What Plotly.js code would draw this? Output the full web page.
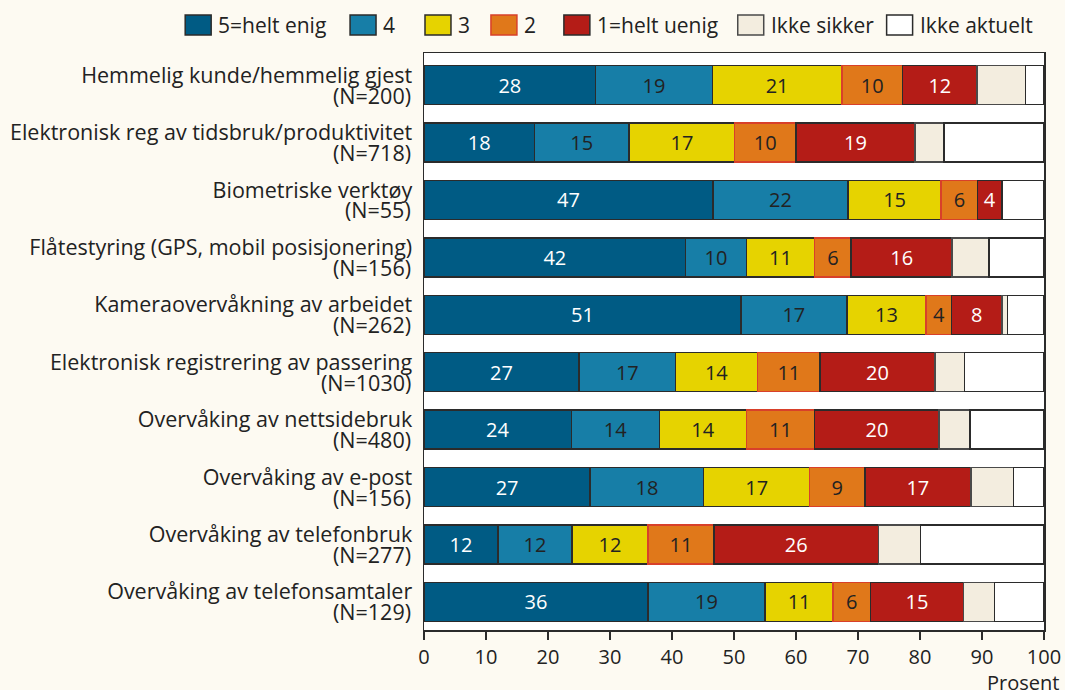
<!DOCTYPE html>
<html>
<head>
<meta charset="utf-8">
<script src="https://cdn.plot.ly/plotly-3.0.1.min.js"></script>
<style>
  html, body { margin: 0; padding: 0; background: #fdfaf2; }
  #chart { width: 1065px; height: 690px; }
</style>
</head>
<body>
<div id="chart"></div>
<script>
// Categories (top to bottom)
const categories = [
  'Hemmelig kunde/hemmelig gjest',
  'Elektronisk reg av tidsbruk/produktivitet',
  'Biometriske verktøy',
  'Flåtestyring (GPS, mobil posisjonering)',
  'Kameraovervåkning av arbeidet',
  'Elektronisk registrering av passering',
  'Overvåking av nettsidebruk',
  'Overvåking av e-post',
  'Overvåking av telefonbruk',
  'Overvåking av telefonsamtaler'
];
const nLabels = ['(N=200)', '(N=718)', '(N=55)', '(N=156)', '(N=262)', '(N=1030)', '(N=480)', '(N=156)', '(N=277)', '(N=129)'];

// Series names (legend)
const seriesNames = ['5=helt enig', '4', '3', '2', '1=helt uenig', 'Ikke sikker', 'Ikke aktuelt'];

// Bar lengths (percent)
const w5       = [27.7, 17.8, 46.6, 42.2, 51.1, 25.0, 23.8, 26.8, 11.9, 36.1];
const w4       = [18.8, 15.3, 21.8,  9.8, 17.1, 15.6, 14.2, 18.3, 12.0, 18.9];
const w3       = [20.9, 17.0, 15.0, 11.0, 12.8, 13.2, 14.0, 17.1, 12.2, 11.0];
const w2       = [ 9.8,  9.9,  5.9,  5.9,  4.1, 10.1, 11.0,  8.9, 10.7,  6.0];
const w1       = [12.0, 19.2,  3.9, 16.3,  8.1, 18.5, 20.1, 17.1, 26.5, 15.0];
const wSikker  = [ 7.8,  4.7,  0.0,  5.9,  0.9,  4.8,  5.0,  6.9,  6.8,  5.0];
const wAktuelt = [ 3.0, 16.1,  6.8,  8.9,  5.9, 12.8, 11.9,  4.9, 19.9,  8.0];

// Printed value labels
const t5 = [28, 18, 47, 42, 51, 27, 24, 27, 12, 36];
const t4 = [19, 15, 22, 10, 17, 17, 14, 18, 12, 19];
const t3 = [21, 17, 15, 11, 13, 14, 14, 17, 12, 11];
const t2 = [10, 10,  6,  6,  4, 11, 11,  9, 11,  6];
const t1 = [12, 19,  4, 16,  8, 20, 20, 17, 26, 15];

const values = [w5, w4, w3, w2, w1, wSikker, wAktuelt];
const texts  = [t5, t4, t3, t2, t1, null, null];
const fills  = ['#005b84', '#177ea7', '#e6d300', '#e0781a', '#b41c17', '#f3eddf', '#ffffff'];
const edges  = ['#2b2b2b', '#2b2b2b', '#2b2b2b', '#d8402a', '#2b2b2b', '#4a4a4a', '#2b2b2b'];
const txtCol = ['#ffffff', '#222222', '#222222', '#222222', '#ffffff', '#222222', '#222222'];

const FONT = 'Open Sans, Noto Sans, sans-serif';

const traces = values.map((v, i) => ({
  type: 'bar',
  orientation: 'h',
  name: seriesNames[i],
  y: categories,
  x: v,
  width: 0.68,
  marker: { color: fills[i], line: { color: edges[i], width: 1.5 } },
  text: texts[i] ? texts[i].map(String) : undefined,
  textposition: texts[i] ? 'inside' : 'none',
  insidetextanchor: 'middle',
  textangle: 0,
  constraintext: 'none',
  textfont: { family: FONT, size: 20, color: txtCol[i] },
  hoverinfo: 'skip',
  showlegend: false
}));

// Custom legend (big swatches) built from series names
const legendPx = [185, 350, 425, 491, 564, 738, 887];
const plotL = 424, plotW = 620.5, plotT = 53, plotH = 577;
const toPaperX = px => (px - plotL) / plotW;
const toPaperY = py => 1 - (py - plotT) / plotH;
const shapes = [];
const annotations = [];
seriesNames.forEach((nm, i) => {
  shapes.push({
    type: 'rect', xref: 'paper', yref: 'paper',
    x0: toPaperX(legendPx[i]), x1: toPaperX(legendPx[i] + 26),
    y0: toPaperY(35), y1: toPaperY(15),
    fillcolor: fills[i], line: { color: edges[i], width: 1.5 }
  });
  annotations.push({
    xref: 'paper', yref: 'paper',
    x: toPaperX(legendPx[i] + 31), y: toPaperY(25.5),
    xanchor: 'left', yanchor: 'middle',
    text: nm, showarrow: false,
    font: { family: FONT, size: 21, color: '#222222' }
  });
});
// Second line of each category label: (N=...)
categories.forEach((c, i) => {
  annotations.push({
    xref: 'paper', yref: 'y', x: 0, y: c, xshift: -11, yshift: -10,
    xanchor: 'right', yanchor: 'middle', text: nLabels[i], showarrow: false,
    font: { family: FONT, size: 21.5, color: '#222222' }
  });
});
annotations.push({
  xref: 'paper', yref: 'paper', x: 1, y: 0, xshift: 17, yshift: -37,
  xanchor: 'right', yanchor: 'top', text: 'Prosent', showarrow: false,
  font: { family: FONT, size: 20, color: '#222222' }
});

const layout = {
  width: 1065, height: 690,
  paper_bgcolor: '#fdfaf2',
  plot_bgcolor: '#ffffff',
  margin: { l: 424, r: 20.5, t: 53, b: 60 },
  barmode: 'stack',
  showlegend: false,
  font: { family: FONT, size: 20, color: '#222222' },
  xaxis: {
    range: [0, 100], dtick: 10, tick0: 0,
    showgrid: false, zeroline: false,
    showline: true, mirror: true, linecolor: '#2b2b2b', linewidth: 1.5,
    ticks: 'outside', ticklen: 8, tickwidth: 1.3, tickcolor: '#2b2b2b',
    tickfont: { family: FONT, size: 20, color: '#222222' },
    fixedrange: true
  },
  yaxis: {
    type: 'category', categoryorder: 'array', categoryarray: categories,
    range: [9.49, -0.56],
    showgrid: false, zeroline: false,
    showline: true, mirror: true, linecolor: '#2b2b2b', linewidth: 1.5,
    ticks: '', ticklabelstandoff: 6, ticklabelshift: 10,
    tickfont: { family: FONT, size: 21.5, color: '#222222' },
    fixedrange: true
  },
  shapes: shapes,
  annotations: annotations
};

Plotly.newPlot('chart', traces, layout, { staticPlot: true, displayModeBar: false });
</script>
</body>
</html>
